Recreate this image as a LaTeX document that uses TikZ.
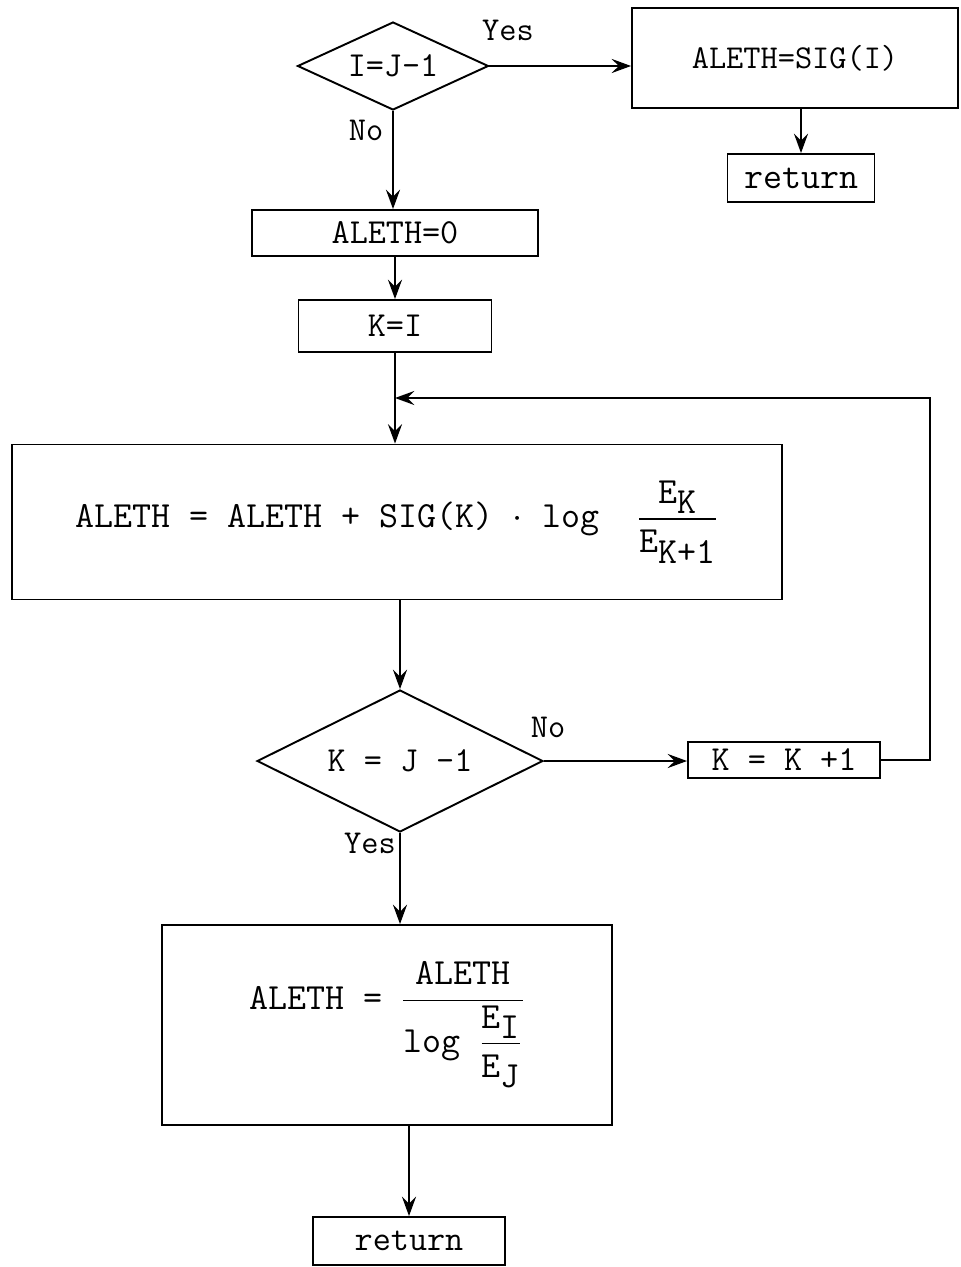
\documentclass[tikz,border=0pt]{standalone}
\usepackage{amsmath}
\usepackage{fontspec}
\usetikzlibrary{shapes.geometric,arrows.meta}

\begin{document}
\begin{tikzpicture}[
  x=0.02cm,
  y=-0.02cm,
  line width=1.1pt,
  box/.style={draw, rectangle, inner sep=0pt, font=\ttfamily\fontsize{20}{24}\selectfont},
  test/.style={draw, diamond, shape aspect=2.2, inner sep=0pt, font=\ttfamily\fontsize{20}{24}\selectfont},
  lbl/.style={font=\ttfamily\fontsize{19}{22}\selectfont},
  flow/.style={-{Stealth[length=11pt,width=8pt,inset=4pt]}}
]
\useasboundingbox (0,0) rectangle (960,1267);

% Entry test
\node[test, minimum width=3.82cm, minimum height=1.76cm] (d1) at (393,66) {I=J-1};
\node[box, minimum width=6.52cm, minimum height=2.0cm, font=\ttfamily\fontsize{19}{22}\selectfont] (sigI) at (795,58) {ALETH=SIG(I)};
\node[box, minimum width=2.94cm, minimum height=0.96cm, font=\ttfamily\fontsize{21}{24}\selectfont] (ret1) at (801,178) {return};
\node[box, minimum width=5.72cm, minimum height=0.92cm] (zero) at (395,233) {ALETH=0};
\node[box, minimum width=3.86cm, minimum height=1.04cm] (kI) at (395,326) {K=I};

% Loop body
\node[box, minimum width=15.4cm, minimum height=3.1cm, font=\ttfamily\fontsize{21}{25}\selectfont] (sum) at (397,522)
  {ALETH = ALETH + SIG(K) $\cdot$ log~~$\dfrac{\texttt{E}_{\textstyle\texttt{K}}}{\texttt{E}_{\textstyle\texttt{K+1}}}$};
\node[test, minimum width=5.72cm, minimum height=2.84cm] (d2) at (400,761) {K = J -1};
\node[box, minimum width=3.84cm, minimum height=0.72cm] (kinc) at (784,760) {K = K +1};

% Normalisation and exit
\node[box, minimum width=9.0cm, minimum height=4.0cm, font=\ttfamily\fontsize{21}{25}\selectfont] (div) at (387,1025)
  {ALETH = $\dfrac{\texttt{ALETH}}{\texttt{log}~\dfrac{\texttt{E}_{\textstyle\texttt{I}}}{\texttt{E}_{\textstyle\texttt{J}}}}$};
\node[box, minimum width=3.84cm, minimum height=0.96cm] (ret2) at (409,1241) {return};

% Branch labels
\node[lbl] (yes1) at (508,30) {Yes};
\node[lbl] (no1) at (366,130) {No};
\node[lbl] (no2) at (548,727) {No};
\node[lbl] (yes2) at (370,843) {Yes};

% Connectors
\coordinate (loop) at (930,398);
\coordinate (join) at (kI.south |- loop);
\draw[flow] (d1.east) -- (d1.east -| sigI.west);
\draw[flow] (sigI.south -| ret1.north) -- (ret1.north);
\draw[flow] (d1.south) -- (d1.south |- zero.north);
\draw[flow] (zero.south) -- (zero.south |- kI.north);
\draw[flow] (kI.south) -- (kI.south |- sum.north);
\draw[flow] (kinc.east) -| (loop) -- (join);
\draw[flow] (sum.south -| d2.north) -- (d2.north);
\draw[flow] (d2.east) -- (d2.east -| kinc.west);
\draw[flow] (d2.south) -- (d2.south |- div.north);
\draw[flow] (div.south -| ret2.north) -- (ret2.north);

\end{tikzpicture}
\end{document}
